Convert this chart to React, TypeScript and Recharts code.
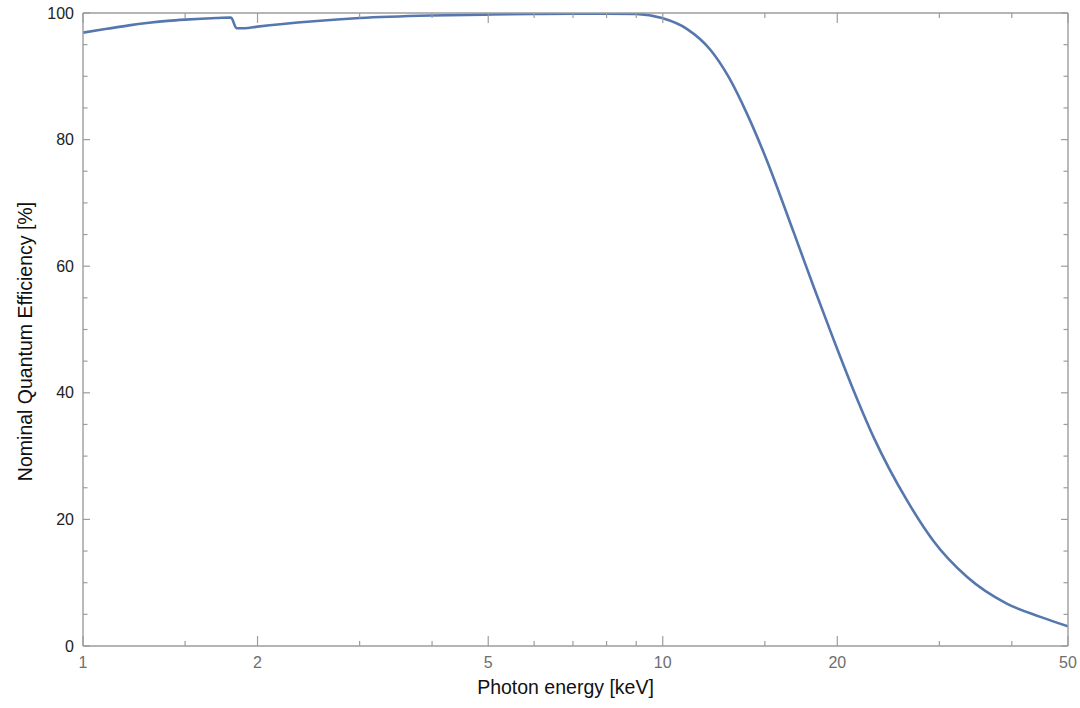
import React from 'react';
import { LineChart, Line, XAxis, YAxis } from 'recharts';

// Photon energy [keV]
const energy = [
  1.0, 1.1, 1.2, 1.3, 1.4, 1.5, 1.6, 1.7, 1.8, 1.84, 1.9, 2.0, 2.5, 3.0, 4.0, 5.0, 6.0, 7.0, 8.0, 9.0,
  9.97, 11.0, 12.08, 12.99, 13.97, 15.03, 16.86, 18.2, 19.71, 21.2, 23.1, 26.38, 29.3,
  33.5, 39.2, 44.8, 50.0,
];
// Nominal quantum efficiency [%]
const efficiency = [
  96.9, 97.5, 98.05, 98.45, 98.75, 98.95, 99.1, 99.2, 99.3, 97.6, 97.6, 97.85, 98.7, 99.2, 99.6, 99.75, 99.85, 99.9, 99.9, 99.85,
  99.2, 97.5, 94.2, 89.9, 84.1, 77.3, 65.1, 56.8, 48.4, 41.0, 33.0, 23.0, 16.6,
  10.9, 6.7, 4.6, 3.1,
];

const xTicks = [1, 1.5, 2, 3, 4, 5, 6, 7, 8, 9, 10, 15, 20, 30, 40, 50];
const xMajor = [1, 2, 5, 10, 20, 50];
const yTicks = [0, 5, 10, 15, 20, 25, 30, 35, 40, 45, 50, 55, 60, 65, 70, 75, 80, 85, 90, 95, 100];
const yMajor = [0, 20, 40, 60, 80, 100];

const xTitle = 'Photon energy [keV]';
const yTitle = 'Nominal Quantum Efficiency [%]';

const data = energy.map((e, i) => ({ e, qe: efficiency[i] }));

const FRAME = '#9d9d9d';
const FONT = 'Liberation Sans, Arial, sans-serif';

const BottomTick = (props: any) => {
  const { x, y, payload } = props;
  const major = xMajor.includes(payload.value);
  return (
    <g>
      <line x1={x} y1={y} x2={x} y2={y - (major ? 10 : 5)} stroke={FRAME} strokeWidth={1.2} />
      {major && (
        <text x={x} y={y + 16} dy="0.35em" textAnchor="middle" fill="#6e6e6e" fontSize={16} fontFamily={FONT}>
          {payload.value}
        </text>
      )}
    </g>
  );
};

const TopTick = (props: any) => {
  const { x, y, payload } = props;
  const major = xMajor.includes(payload.value);
  return <line x1={x} y1={y} x2={x} y2={y + (major ? 10 : 5)} stroke={FRAME} strokeWidth={1.2} />;
};

const LeftTick = (props: any) => {
  const { x, y, payload } = props;
  const major = yMajor.includes(payload.value);
  return (
    <g>
      <line x1={x} y1={y} x2={x + (major ? 7 : 4.5)} y2={y} stroke={FRAME} strokeWidth={1.2} />
      {major && (
        <text x={x - 9} y={y} dy="0.35em" textAnchor="end" fill="#222" fontSize={16} fontFamily={FONT}>
          {payload.value}
        </text>
      )}
    </g>
  );
};

const RightTick = (props: any) => {
  const { x, y, payload } = props;
  const major = yMajor.includes(payload.value);
  return <line x1={x} y1={y} x2={x - (major ? 7 : 4.5)} y2={y} stroke={FRAME} strokeWidth={1.2} />;
};

const XTitle = (props: any) => {
  const vb = props.viewBox || { x: 83, y: 646, width: 985, height: 62 };
  return (
    <text x={vb.x + vb.width / 2 - 10} y={vb.y + 41} dy="0.35em" textAnchor="middle" fill="#111" fontSize={19.5} fontFamily={FONT}>
      {xTitle}
    </text>
  );
};

const YTitle = (props: any) => {
  const vb = props.viewBox || { x: 0, y: 13, width: 83, height: 633 };
  const cx = vb.x + 25;
  const cy = vb.y + vb.height / 2 + 12;
  return (
    <text x={cx} y={cy} dy="0.35em" textAnchor="middle" fill="#111" fontSize={19.5} fontFamily={FONT} transform={`rotate(-90 ${cx} ${cy})`}>
      {yTitle}
    </text>
  );
};

export default function App() {
  return (
    <div style={{ position: 'absolute', left: 0, top: 0, width: 1080, height: 708, background: '#fff' }}>
      <LineChart width={1080} height={708} data={data} margin={{ top: 0, right: 0, bottom: 0, left: 0 }}>
        <XAxis
          dataKey="e"
          type="number"
          scale="log"
          domain={[1, 50]}
          allowDataOverflow
          ticks={xTicks}
          interval={0}
          height={62}
          tickSize={0}
          tickMargin={0}
          tickLine={false}
          axisLine={{ stroke: FRAME, strokeWidth: 1.4 }}
          tick={<BottomTick />}
          label={<XTitle />}
        />
        <XAxis
          xAxisId="top"
          orientation="top"
          dataKey="e"
          type="number"
          scale="log"
          domain={[1, 50]}
          allowDataOverflow
          ticks={xTicks}
          interval={0}
          height={13}
          tickSize={0}
          tickMargin={0}
          tickLine={false}
          axisLine={{ stroke: FRAME, strokeWidth: 1.4 }}
          tick={<TopTick />}
        />
        <YAxis
          type="number"
          domain={[0, 100]}
          allowDataOverflow
          ticks={yTicks}
          interval={0}
          width={83}
          tickSize={0}
          tickMargin={0}
          tickLine={false}
          axisLine={{ stroke: FRAME, strokeWidth: 1.4 }}
          tick={<LeftTick />}
          label={<YTitle />}
        />
        <YAxis
          yAxisId="right"
          orientation="right"
          type="number"
          domain={[0, 100]}
          allowDataOverflow
          ticks={yTicks}
          interval={0}
          width={12}
          tickSize={0}
          tickMargin={0}
          tickLine={false}
          axisLine={{ stroke: FRAME, strokeWidth: 1.4 }}
          tick={<RightTick />}
        />
        <Line
          type="monotone"
          dataKey="qe"
          stroke="#5677ad"
          strokeWidth={2.6}
          dot={false}
          activeDot={false}
          isAnimationActive={false}
        />
      </LineChart>
    </div>
  );
}
